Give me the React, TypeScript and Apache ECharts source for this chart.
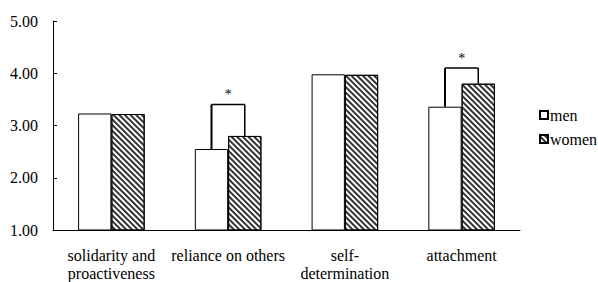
import React, { useEffect, useRef } from "react";
import * as echarts from "echarts";

const categories = ["solidarity and\nproactiveness", "reliance on others", "self-\ndetermination", "attachment"];
const menValues = [3.23, 2.55, 3.98, 3.36];
const womenValues = [3.22, 2.8, 3.97, 3.8];
// significance brackets: [categoryIndex, menTop, womenTop, bracketTop]
const brackets = [
  [1, 2.55, 2.8, 3.4],
  [3, 3.36, 3.8, 4.1],
];
const yTicks = { min: 1, max: 5, interval: 1 };

const FONT = "Liberation Serif";
const BAR_FRAC = 0.285;

export default function App() {
  const ref = useRef<HTMLDivElement>(null);
  useEffect(() => {
    const chart = echarts.init(ref.current!, null, { renderer: "svg" });
    chart.setOption({
      animation: false,
      backgroundColor: "#fff",
      textStyle: { fontFamily: FONT, color: "#000" },
      grid: { left: 53, right: 78, top: 21, bottom: 48 },
      legend: {
        orient: "vertical",
        left: 534,
        top: 102,
        itemWidth: 8,
        itemHeight: 8,
        itemGap: 8,
        icon: "rect",
        data: ["men", "women"],
        textStyle: { fontFamily: FONT, fontSize: 16, color: "#000", padding: [0, 0, 0, -3] },
      },
      xAxis: {
        type: "category",
        data: categories,
        axisLine: { lineStyle: { color: "#000", width: 1 } },
        axisTick: { inside: true, length: 4, lineStyle: { color: "#000" } },
        axisLabel: { fontFamily: FONT, fontSize: 16, color: "#000", margin: 16, lineHeight: 18, interval: 0 },
      },
      yAxis: {
        type: "value",
        min: yTicks.min,
        max: yTicks.max,
        interval: yTicks.interval,
        splitLine: { show: false },
        axisLine: { show: true, lineStyle: { color: "#000", width: 1 } },
        axisTick: { show: true, inside: true, length: 4, lineStyle: { color: "#000" } },
        axisLabel: {
          fontFamily: FONT,
          fontSize: 16,
          color: "#000",
          margin: 15,
          formatter: (v: number) => v.toFixed(2),
        },
      },
      series: [
        {
          name: "men",
          type: "bar",
          data: menValues,
          barWidth: `${BAR_FRAC * 100}%`,
          barGap: "0%",
          itemStyle: { color: "#fff", borderColor: "#000", borderWidth: 1 },
        },
        {
          name: "women",
          type: "bar",
          data: womenValues,
          barWidth: `${BAR_FRAC * 100}%`,
          itemStyle: {
            color: "#fff",
            borderColor: "#000",
            borderWidth: 1,
            decal: {
              symbol: "rect",
              symbolSize: 1,
              color: "#333",
              dashArrayX: [1, 0],
              dashArrayY: [1.4, 1.6],
              rotation: Math.PI / 4,
            },
          },
        },
        {
          type: "custom",
          silent: true,
          data: brackets,
          z: 5,
          renderItem: (params: any, api: any) => {
            const ci = api.value(0);
            const pM = api.coord([ci, api.value(1)]);
            const pW = api.coord([ci, api.value(2)]);
            const pT = api.coord([ci, api.value(3)]);
            const band = api.size([1, 0])[0];
            const off = (band * BAR_FRAC) / 2;
            const xl = pT[0] - off;
            const xr = pT[0] + off;
            return {
              type: "group",
              children: [
                { type: "line", shape: { x1: xl, y1: pM[1], x2: xl, y2: pT[1] }, style: { stroke: "#000", lineWidth: 2 } },
                { type: "line", shape: { x1: xl, y1: pT[1], x2: xr, y2: pT[1] }, style: { stroke: "#000", lineWidth: 1.5 } },
                { type: "line", shape: { x1: xr, y1: pT[1], x2: xr, y2: pW[1] }, style: { stroke: "#000", lineWidth: 1.5 } },
                {
                  type: "text",
                  x: pT[0],
                  y: pT[1] - 3,
                  style: { text: "*", fontFamily: FONT, fontSize: 14, fill: "#000", align: "center", verticalAlign: "bottom" },
                },
              ],
            };
          },
        },
      ],
    });
    return () => chart.dispose();
  }, []);
  return <div ref={ref} style={{ position: "fixed", left: 0, top: 0, width: 598, height: 282 }} />;
}
